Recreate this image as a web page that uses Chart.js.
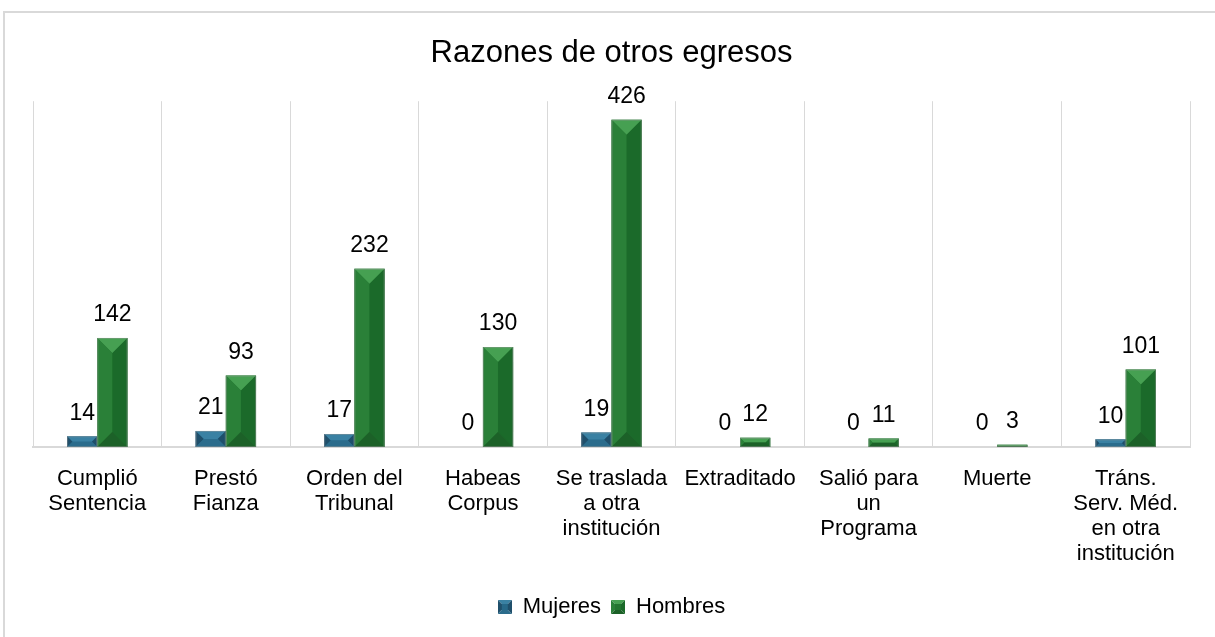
<!DOCTYPE html>
<html>
<head>
<meta charset="utf-8">
<script src="https://cdn.jsdelivr.net/npm/chart.js@4"></script>
<style>
  html, body { margin: 0; padding: 0; background: #fff; }
  canvas { display: block; }
</style>
</head>
<body>
<canvas id="chart" width="1215" height="637"></canvas>
<script>
const categories = [
  ['Cumplió', 'Sentencia'],
  ['Prestó', 'Fianza'],
  ['Orden del', 'Tribunal'],
  ['Habeas', 'Corpus'],
  ['Se traslada', 'a otra', 'institución'],
  ['Extraditado'],
  ['Salió para', 'un', 'Programa'],
  ['Muerte'],
  ['Tráns.', 'Serv. Méd.', 'en otra', 'institución']
];
const mujeres = [14, 21, 17, 0, 19, 0, 0, 0, 10];
const hombres = [142, 93, 232, 130, 426, 12, 11, 3, 101];

const FONT = 'Liberation Sans, Arial, sans-serif';

// bevel shades: top, left, right, bottom, face
const shades = {
  Mujeres: ['#3a81a3', '#1f4f6b', '#1f4f6b', '#2b6c8c', '#276888'],
  Hombres: ['#46a052', '#2a8038', '#1b6a2a', '#1c6128', '#237530']
};

function drawBevel(ctx, L, T, R, B, c, maxD) {
  const h = B - T;
  const d = Math.min((R - L) / 2, h / 2, maxD);
  const poly = (pts, col) => {
    ctx.beginPath();
    ctx.moveTo(pts[0][0], pts[0][1]);
    for (let k = 1; k < pts.length; k++) ctx.lineTo(pts[k][0], pts[k][1]);
    ctx.closePath();
    ctx.fillStyle = col;
    ctx.fill();
  };
  poly([[L + d, T + d], [R - d, T + d], [R - d, B - d], [L + d, B - d]], c[4]);
  poly([[L, T], [R, T], [R - d, T + d], [L + d, T + d]], c[0]);
  poly([[L, T], [L + d, T + d], [L + d, B - d], [L, B]], c[1]);
  poly([[R, T], [R - d, T + d], [R - d, B - d], [R, B]], c[2]);
  poly([[L, B], [L + d, B - d], [R - d, B - d], [R, B]], c[3]);
}

function legendIcon(c) {
  const cv = document.createElement('canvas');
  cv.width = 14; cv.height = 14;
  const g = cv.getContext('2d');
  drawBevel(g, 0, 0, 14, 14, c, 4);
  return cv;
}

const framePlugin = {
  id: 'frame',
  beforeDraw(chart) {
    const ctx = chart.ctx;
    ctx.save();
    ctx.strokeStyle = '#d9d9d9';
    ctx.lineWidth = 2;
    ctx.strokeRect(4, 12, 1400, 800);
    ctx.restore();
  }
};

const bevelPlugin = {
  id: 'bevel',
  afterDatasetsDraw(chart) {
    const ctx = chart.ctx;
    chart.data.datasets.forEach((ds, i) => {
      const meta = chart.getDatasetMeta(i);
      const c = shades[ds.label];
      meta.data.forEach(bar => {
        const L = bar.x - bar.width / 2, R = bar.x + bar.width / 2;
        const T = Math.min(bar.y, bar.base), B = Math.max(bar.y, bar.base);
        if (B - T < 1) return;
        ctx.save();
        drawBevel(ctx, L, T, R, B, c, 15);
        ctx.strokeStyle = 'rgba(150,150,150,0.45)';
        ctx.lineWidth = 1;
        ctx.strokeRect(L + 0.5, T + 0.5, R - L - 1, B - T - 1);
        ctx.restore();
      });
    });
  },
  afterDraw(chart) {
    const ctx = chart.ctx;
    ctx.save();
    ctx.font = '23px ' + FONT;
    ctx.fillStyle = '#000';
    ctx.textAlign = 'center';
    ctx.textBaseline = 'middle';
    chart.data.datasets.forEach((ds, i) => {
      const meta = chart.getDatasetMeta(i);
      meta.data.forEach((bar, j) => {
        ctx.fillText(String(ds.data[j]), bar.x, bar.y - 23);
      });
    });
    ctx.restore();
  }
};

new Chart(document.getElementById('chart'), {
  type: 'bar',
  data: {
    labels: categories,
    datasets: [
      { label: 'Mujeres', data: mujeres, backgroundColor: '#276888', pointStyle: legendIcon(shades.Mujeres) },
      { label: 'Hombres', data: hombres, backgroundColor: '#237530', pointStyle: legendIcon(shades.Hombres) }
    ]
  },
  options: {
    responsive: false,
    animation: false,
    layout: { padding: { left: 33, right: 25, top: 0, bottom: 9 } },
    datasets: {
      bar: { categoryPercentage: 0.47, barPercentage: 1.0 }
    },
    scales: {
      x: {
        grid: { color: '#d9d9d9', lineWidth: 1, drawTicks: false, offset: true },
        border: { color: '#d9d9d9', width: 2 },
        ticks: {
          color: '#000',
          padding: 19,
          maxRotation: 0,
          autoSkip: false,
          font: { family: FONT, size: 22, lineHeight: 1.136 }
        },
        afterFit(scale) { scale.height += 1; }
      },
      y: { display: false, min: 0, max: 450 }
    },
    plugins: {
      title: {
        display: true,
        text: 'Razones de otros egresos',
        color: '#000',
        font: { family: FONT, size: 31, weight: 'normal' },
        padding: { top: 35, bottom: 29 }
      },
      legend: {
        position: 'bottom',
        labels: {
          color: '#000',
          usePointStyle: true,
          boxWidth: 14,
          boxHeight: 14,
          padding: 10,
          font: { family: FONT, size: 22 }
        }
      },
      tooltip: { enabled: false }
    }
  },
  plugins: [framePlugin, bevelPlugin]
});
</script>
</body>
</html>
